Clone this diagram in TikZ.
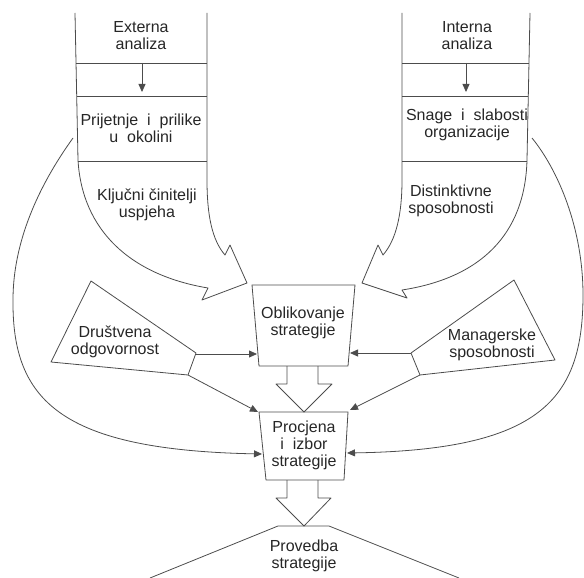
\documentclass[tikz,border=0pt]{standalone}
\usepackage{fontspec}
\setmainfont{Liberation Sans}
\usetikzlibrary{arrows.meta}
\begin{document}
\begin{tikzpicture}[x=1pt,y=-1pt,
  ln/.style={line width=0.8pt, draw=black!70, line join=round},
  arr/.style={ln, -{Triangle[length=8pt,width=7pt]}, fill=none},
  lbl/.style={align=center, inner sep=0pt, font=\fontsize{16}{17}\selectfont, text=black!85}]
\useasboundingbox (0,0) rectangle (584,578);

% ---- left column (external analysis) ----
\draw[ln] (75,13) -- (78,160) .. controls (82,230) and (130,275) .. (208,288)
  -- (202,300) -- (247,283) -- (230,245) -- (225,255)
  .. controls (212,240) and (207,215) .. (207,180) -- (207,13);
\draw[ln] (76,63) -- (207,63);
\draw[ln] (76.7,96) -- (207,96);
\draw[ln] (78,161) -- (207,161);
\coordinate (la1) at (142,63);
\coordinate (la2) at (142,92);
\draw[arr] (la1) -- (la2);

% ---- right column (internal analysis) ----
\draw[ln] (530,13) -- (527,160) .. controls (525,235) and (480,278) .. (402,290)
  -- (407,298) -- (362,283) -- (378,245) -- (383,255)
  .. controls (396,240) and (402,215) .. (402,180) -- (402,13);
\draw[ln] (402,63) -- (529,63);
\draw[ln] (402,96) -- (528.3,96);
\draw[ln] (402,161) -- (527,161);
\coordinate (ra1) at (466,63);
\coordinate (ra2) at (466,92);
\draw[arr] (ra1) -- (ra2);

% ---- column texts ----
\node[lbl] (ext) at (141,36) {Externa\\analiza};
\node[lbl] (prij) at (141,128) {Prijetnje~ i~ prilike\\u~ okolini};
\node[lbl] (klj) at (147,205) {Ključni činitelji\\uspjeha};
\node[lbl] (int) at (467,36) {Interna\\analiza};
\node[lbl] (snag) at (467,125) {Snage~ i~ slabosti\\organizacije};
\node[lbl] (dist) at (451,201) {Distinktivne\\sposobnosti};

% ---- central boxes ----
\draw[ln] (252,285) -- (355,285) -- (348,366) -- (259,366) -- cycle;
\node[lbl] (obl) at (303,323) {Oblikovanje\\strategije};
\draw[ln] (287,366) -- (287,384) -- (276,384) -- (304,412) -- (332,384) -- (318,384) -- (318,366);
\draw[ln] (259,412) -- (348,412) -- (344,480) -- (266,480) -- cycle;
\node[lbl] (proc) at (304,445) {Procjena\\i~ izbor\\strategije};
\draw[ln] (287,480) -- (287,498) -- (276,498) -- (304,526) -- (331,498) -- (318,498) -- (318,480);
\draw[ln] (150,578) -- (278,526) -- (329,526) -- (459,578);
\node[lbl] (prov) at (304,556) {Provedba\\strategije};

% ---- side triangles ----
\draw[ln] (91,281) -- (196,353) -- (188,375) -- (51,362) -- cycle;
\node[lbl] (drus) at (115,342) {Društvena\\odgovornost};
\draw[ln] (514,280) -- (555,360) -- (420,375) -- (411,353) -- cycle;
\node[lbl] (mgr) at (492,345) {Managerske\\sposobnosti};

% ---- connector end points ----
\coordinate (dA) at (196,354);
\coordinate (dB) at (188,375);
\coordinate (mA) at (411,353);
\coordinate (mB) at (420,375);
\coordinate (o1L) at (257,354);
\coordinate (o1R) at (350,353);
\coordinate (p2TL) at (258,412);
\coordinate (p2TR) at (350,410);
\coordinate (p2L) at (262,454);
\coordinate (p2R) at (347,453);
\coordinate (cL) at (73,138);
\coordinate (cR) at (532,138);

% ---- connectors ----
\draw[arr] (dA) -- (o1L);
\draw[arr] (dB) -- (p2TL);
\draw[arr] (mA) -- (o1R);
\draw[arr] (mB) -- (p2TR);
\draw[arr] (cL) .. controls (50,170) and (13,230) .. (13,300)
  .. controls (12,400) and (60,450) .. (p2L);
\draw[arr] (cR) .. controls (558,170) and (583,228) .. (583,295)
  .. controls (583,400) and (540,450) .. (p2R);
\end{tikzpicture}
\end{document}
